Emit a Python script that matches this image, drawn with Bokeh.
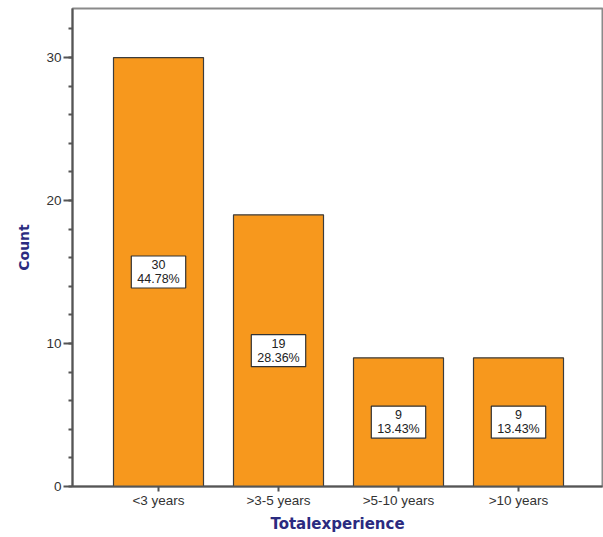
from bokeh.plotting import figure
from bokeh.models import Range1d, FixedTicker, ColumnDataSource
from bokeh.core.properties import value
from bokeh.embed import file_html
from bokeh.resources import INLINE

categories = ["<3 years", ">3-5 years", ">5-10 years", ">10 years"]
counts = [30, 19, 9, 9]
percents = ["44.78%", "28.36%", "13.43%", "13.43%"]
y_ticks = [0, 10, 20, 30]

xs = list(range(1, len(categories) + 1))
src = ColumnDataSource(dict(
    x=xs,
    top=counts,
    mid=[c / 2 for c in counts],
    lab=[f"{c}\n{p}" for c, p in zip(counts, percents)],
))

p = figure(width=603, height=537, output_backend="svg", toolbar_location=None,
           x_range=Range1d(0.2833, 4.7), y_range=Range1d(0, 33.43),
           min_border_left=72, min_border_right=1, min_border_top=8, min_border_bottom=51)

p.vbar(x="x", top="top", width=0.75, source=src, fill_color="#F7981D",
       line_color="#3c3c3c", line_width=1.2)

p.text(x="x", y="mid", text="lab", source=src, text_align="center", text_baseline="middle",
       text_font=value("Liberation Sans"), text_font_size="12.5px", text_color="#222222",
       text_line_height=1.0,
       background_fill_color="white", border_line_color="#333333", border_line_width=1.2,
       padding=(6, 2))

p.xgrid.visible = False
p.ygrid.visible = False
p.outline_line_color = "#8a8a8a"
p.outline_line_width = 2

for ax in (p.xaxis[0], p.yaxis[0]):
    ax.axis_line_color = "#555555"
    ax.axis_line_width = 2
    ax.major_tick_line_color = "#555555"
    ax.major_tick_line_width = 2
    ax.major_label_text_font = "Liberation Sans"
    ax.major_label_text_font_size = "13.5px"
    ax.major_label_text_color = "#333333"
    ax.axis_label_text_font = "DejaVu Sans"
    ax.axis_label_text_font_style = "bold"
    ax.axis_label_text_color = "#2b2b80"

p.xaxis.ticker = FixedTicker(ticks=xs)
p.xaxis.major_label_overrides = {x: c for x, c in zip(xs, categories)}
p.xaxis.minor_tick_line_color = None
p.xaxis.major_tick_in = 0
p.xaxis.major_tick_out = 5
p.xaxis.major_label_standoff = 1
p.xaxis.axis_label = "Totalexperience"
p.xaxis.axis_label_text_font_size = "15px"
p.xaxis.axis_label_standoff = 4

p.yaxis.ticker = FixedTicker(ticks=y_ticks, minor_ticks=[v for v in range(0, 34, 2)])
p.yaxis.major_tick_in = 0
p.yaxis.major_tick_out = 9
p.yaxis.minor_tick_in = 0
p.yaxis.minor_tick_out = 4
p.yaxis.minor_tick_line_color = "#555555"
p.yaxis.minor_tick_line_width = 2
p.yaxis.major_label_standoff = 2
p.yaxis.axis_label = "Count"
p.yaxis.axis_label_text_font_size = "14px"
p.yaxis.axis_label_standoff = 11

open("out.html", "w").write(file_html(p, INLINE))
